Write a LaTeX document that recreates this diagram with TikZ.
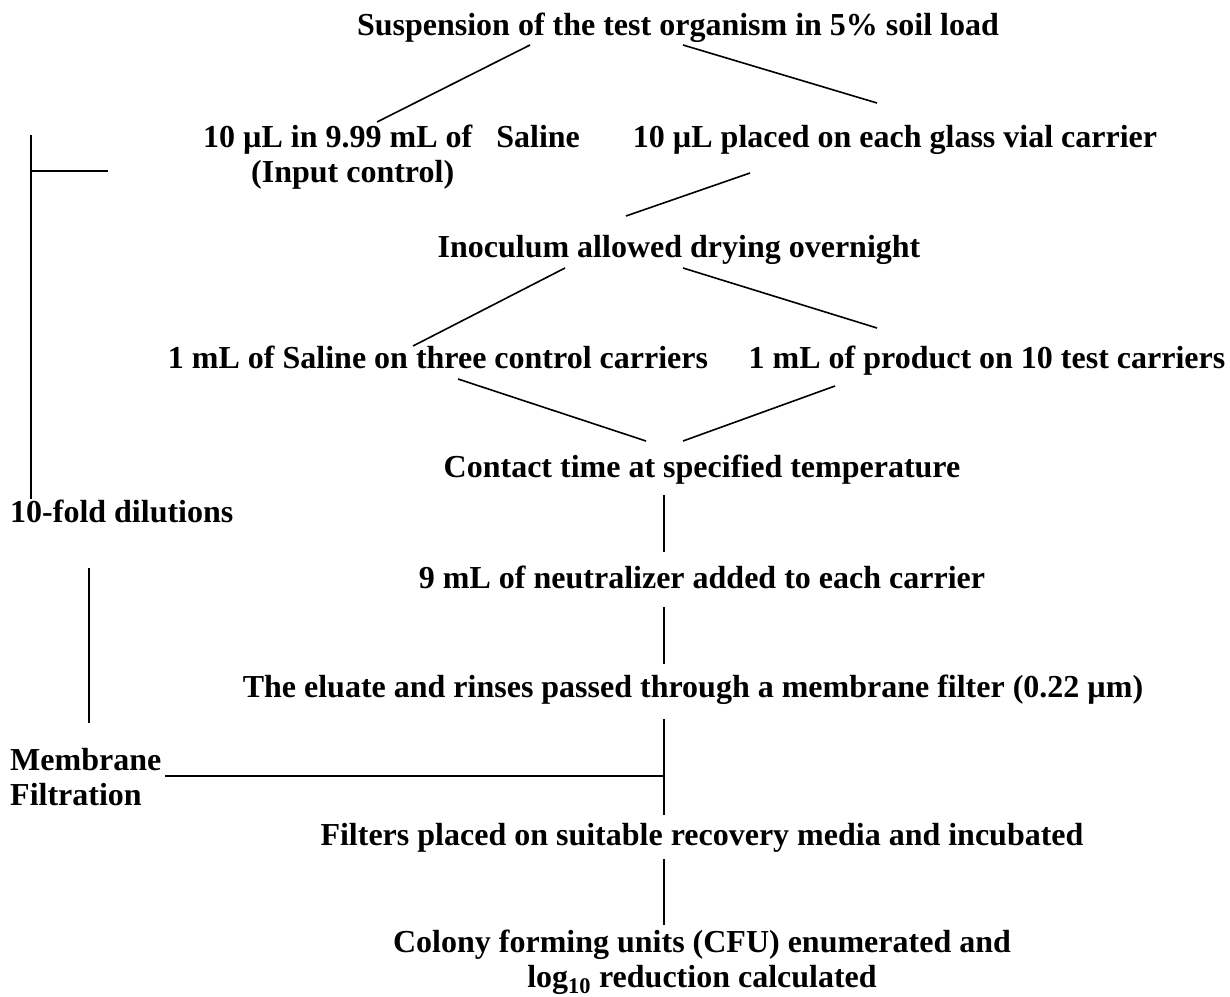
\documentclass[tikz,border=0pt]{standalone}
\usepackage{fontspec}
\setmainfont{Liberation Serif}
\begin{document}
\begin{tikzpicture}[x=1pt,y=-1pt,
  lbl/.style={font=\fontsize{32}{35}\selectfont\bfseries, inner sep=0pt, anchor=base},
  conn/.style={line width=1.6pt, line cap=butt}]
\useasboundingbox[fill=white] (0,0) rectangle (1230,996);
% texts (multi-line nodes: base = baseline of the last line)
\node[lbl] (title) at (678,35) {Suspension of the test organism in 5\% soil load};
\node[lbl, anchor=base west, align=left] (input) at (203,182) {10 µL in 9.99 mL of\ \ \ Saline\\\hspace*{48pt}(Input control)};
\node[lbl] (placed) at (895,147) {10 µL placed on each glass vial carrier};
\node[lbl] (inoc) at (679,257) {Inoculum allowed drying overnight};
\node[lbl] (saline) at (438,368) {1 mL of Saline on three control carriers};
\node[lbl] (product) at (987,368) {1 mL of product on 10 test carriers};
\node[lbl] (contact) at (702,477) {Contact time at specified temperature};
\node[lbl, anchor=base west] (dil) at (10,522) {10-fold dilutions};
\node[lbl] (neutr) at (702,588) {9 mL of neutralizer added to each carrier};
\node[lbl] (eluate) at (693,697) {The eluate and rinses passed through a membrane filter (0.22 µm)};
\node[lbl, anchor=base west, align=left] (memb) at (10,805) {Membrane\\Filtration};
\node[lbl] (filters) at (702,845) {Filters placed on suitable recovery media and incubated};
\node[lbl, align=center] (cfu) at (702,987) {Colony forming units (CFU) enumerated and\\log\textsubscript{10} reduction calculated};
% connector end points
\coordinate (t1) at (530,45);  \coordinate (i1) at (377,122);
\coordinate (t2) at (683,45);  \coordinate (p1) at (877,103);
\coordinate (p2) at (750,173); \coordinate (n1) at (626,216);
\coordinate (n2) at (565,268); \coordinate (s1) at (413,346);
\coordinate (n3) at (683,268); \coordinate (r1) at (877,328);
\coordinate (s2) at (458,379); \coordinate (c1) at (646,441);
\coordinate (r2) at (835,386); \coordinate (c2) at (683,441);
\coordinate (c3) at (664,495); \coordinate (u1) at (664,552);
\coordinate (u2) at (664,607); \coordinate (e1) at (664,664);
\coordinate (e2) at (664,719); \coordinate (f1) at (664,815);
\coordinate (mj) at (664,776); \coordinate (m1) at (165,776);
\coordinate (f2) at (664,859); \coordinate (k1) at (664,925);
\coordinate (lt) at (31,135);  \coordinate (lb) at (31,499);
\coordinate (lj) at (31,171);  \coordinate (lr) at (108,171);
\coordinate (d1) at (89,568);  \coordinate (m2) at (89,723);
% connectors
\draw[conn] (t1) -- (i1);
\draw[conn] (t2) -- (p1);
\draw[conn] (p2) -- (n1);
\draw[conn] (n2) -- (s1);
\draw[conn] (n3) -- (r1);
\draw[conn] (s2) -- (c1);
\draw[conn] (r2) -- (c2);
\draw[conn] (c3) -- (u1);
\draw[conn] (u2) -- (e1);
\draw[conn] (e2) -- (f1);
\draw[conn] (m1) -- (mj);
\draw[conn] (f2) -- (k1);
\draw[conn] (lt) -- (lb);
\draw[conn] (lj) -- (lr);
\draw[conn] (d1) -- (m2);
\end{tikzpicture}
\end{document}
